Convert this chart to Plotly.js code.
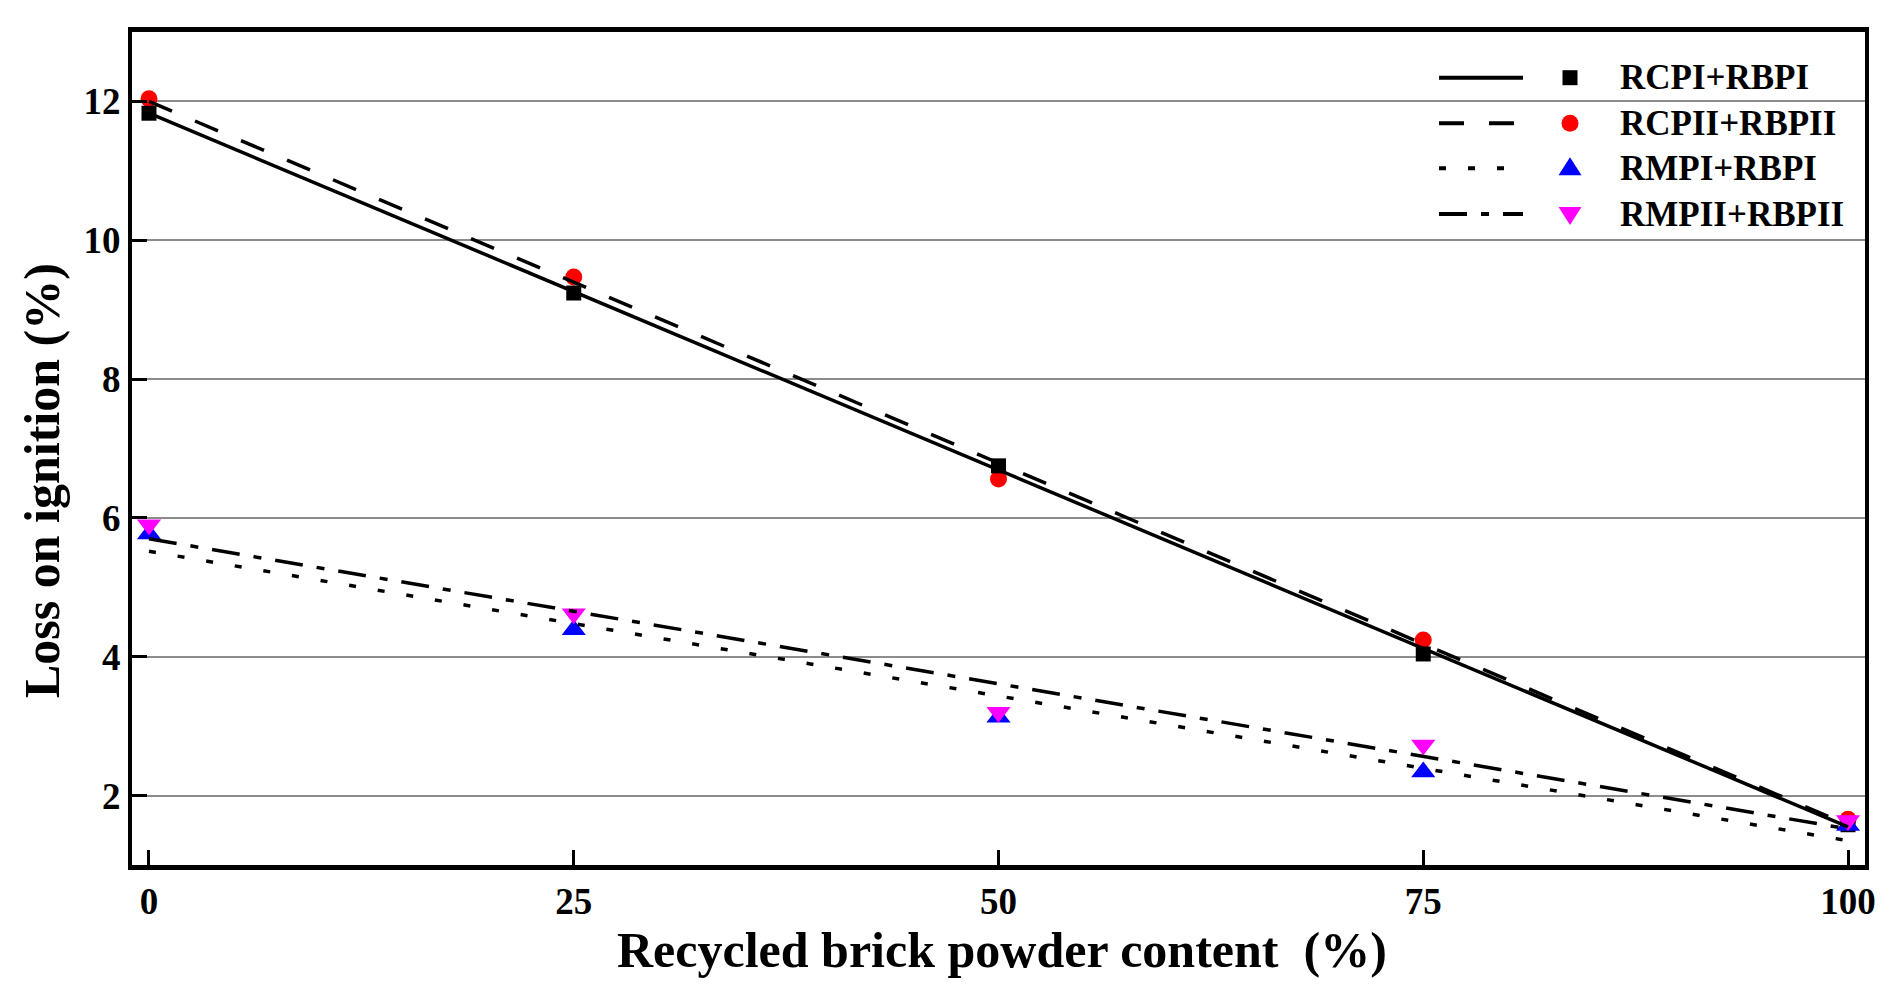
<!DOCTYPE html>
<html>
<head>
<meta charset="utf-8">
<script src="https://cdn.plot.ly/plotly-3.0.1.min.js"></script>
<style>html,body{margin:0;padding:0;background:#fff;}#chart{width:1895px;height:988px;}</style>
</head>
<body>
<div id="chart"></div>
<script>
// Data
const brickContent = [0, 25, 50, 75, 100];
const seriesNames = ['RCPI+RBPI', 'RCPII+RBPII', 'RMPI+RBPI', 'RMPII+RBPII'];
const rcpiRbpi = [11.83, 9.24, 6.75, 4.04, 1.58];
const rcpiiRbpii = [12.04, 9.47, 6.56, 4.24, 1.66];
const rmpiRbpi = [5.77, 4.39, 3.13, 2.34, 1.57];
const rmpiiRbpii = [5.90, 4.62, 3.20, 2.73, 1.64];
// Fitted lines (end values)
const fitX = [0, 100];
const fitRcpi = [11.83, 1.55];
const fitRcpii = [12.00, 1.58];
const fitRmpi = [5.52, 1.35];
const fitRmpii = [5.70, 1.52];
const xTicks = [0, 25, 50, 75, 100];
const yTicks = [2, 4, 6, 8, 10, 12];

const FONT = 'Liberation Serif, Times New Roman, serif';
const markerStyles = [
  {symbol: 'square', color: '#000000', size: 15},
  {symbol: 'circle', color: '#ff0000', size: 17},
  {symbol: 'triangle-up', color: '#0000ff', size: 21},
  {symbol: 'triangle-down', color: '#ff00ff', size: 21}
];
const dashStyles = ['solid', '25px,25px', '7px,22px', '28px,14px,8px,14px'];
const values = [rcpiRbpi, rcpiiRbpii, rmpiRbpi, rmpiiRbpii];
const fits = [fitRcpi, fitRcpii, fitRmpi, fitRmpii];

const traces = [];
// markers first (lines are drawn on top in the reference)
[1, 0, 2, 3].forEach(i => {
  traces.push({
    x: brickContent, y: values[i], type: 'scatter', mode: 'markers',
    name: seriesNames[i], showlegend: false, cliponaxis: false,
    marker: {symbol: markerStyles[i].symbol, color: markerStyles[i].color, size: markerStyles[i].size, line: {width: 0}}
  });
});
fits.forEach((f, i) => {
  traces.push({
    x: fitX, y: f, type: 'scatter', mode: 'lines', showlegend: false,
    line: {color: '#000', width: 3.5, dash: dashStyles[i]}
  });
});

// custom legend geometry (paper coordinates)
const L = 132, R = 1865, T = 32, B = 865;
const px2x = p => (p - L) / (R - L);
const px2y = p => (B - p) / (B - T);
const rowsPx = [77.7, 123.3, 168.3, 214];
const shapes = [];
const annotations = [];
const markerPaths = [
  'M-7.5,-7.5 L7.5,-7.5 L7.5,7.5 L-7.5,7.5 Z',
  null,
  'M-11.5,-7 L11.5,-7 L0,11 Z',
  'M-11.5,7 L11.5,7 L0,-11 Z'
];
rowsPx.forEach((ry, i) => {
  shapes.push({type: 'line', xref: 'paper', yref: 'paper', x0: px2x(1439), x1: px2x(1523),
    y0: px2y(ry), y1: px2y(ry), line: {color: '#000', width: 4, dash: dashStyles[i]}});
  if (i === 1) {
    shapes.push({type: 'circle', xref: 'paper', yref: 'paper', xsizemode: 'pixel', ysizemode: 'pixel',
      xanchor: px2x(1570), yanchor: px2y(ry), x0: -8.5, x1: 8.5, y0: -8.5, y1: 8.5,
      fillcolor: markerStyles[i].color, line: {width: 0}});
  } else {
    shapes.push({type: 'path', xref: 'paper', yref: 'paper', xsizemode: 'pixel', ysizemode: 'pixel',
      xanchor: px2x(1570), yanchor: px2y(ry), path: markerPaths[i],
      fillcolor: markerStyles[i].color, line: {width: 0}});
  }
  annotations.push({xref: 'paper', yref: 'paper', x: px2x(1618), y: px2y(ry), xanchor: 'left', yanchor: 'middle',
    text: seriesNames[i], showarrow: false, font: {family: FONT, size: 35, color: '#000', weight: 'bold'}});
});
annotations.push({xref: 'paper', yref: 'paper', x: px2x(1002), y: px2y(950), xanchor: 'center', yanchor: 'middle',
  text: 'Recycled brick powder content \u00a0(%)', showarrow: false,
  font: {family: FONT, size: 50, color: '#000', weight: 'bold'}});
annotations.push({xref: 'paper', yref: 'paper', x: px2x(42), y: px2y(481), xanchor: 'center', yanchor: 'middle',
  text: 'Loss on ignition (%)', textangle: -90, showarrow: false,
  font: {family: FONT, size: 50, color: '#000', weight: 'bold'}});

const layout = {
  width: 1895, height: 988,
  margin: {l: L, r: 1895 - R, t: T, b: 988 - B, pad: 0},
  paper_bgcolor: '#fff', plot_bgcolor: '#fff',
  showlegend: false,
  font: {family: FONT, color: '#000'},
  xaxis: {
    range: [-1, 101], tickvals: xTicks, ticktext: xTicks.map(String),
    showgrid: false, zeroline: false,
    showline: true, linecolor: '#000', linewidth: 5, mirror: true,
    ticks: 'inside', ticklen: 15, tickwidth: 3, tickcolor: '#000',
    tickfont: {family: FONT, size: 37, color: '#000', weight: 'bold'}
  },
  yaxis: {
    range: [1, 13], tickvals: yTicks, ticktext: yTicks.map(String),
    showgrid: true, gridcolor: '#8c8c8c', gridwidth: 2, zeroline: false,
    showline: true, linecolor: '#000', linewidth: 4, mirror: true,
    ticks: 'inside', ticklen: 15, tickwidth: 3, tickcolor: '#000',
    tickfont: {family: FONT, size: 37, color: '#000', weight: 'bold'}
  },
  shapes: shapes,
  annotations: annotations
};
Plotly.newPlot('chart', traces, layout, {displayModeBar: false, staticPlot: true});
</script>
</body>
</html>
